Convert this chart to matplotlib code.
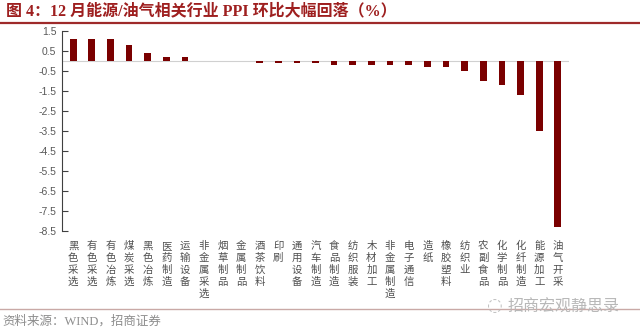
import matplotlib
matplotlib.use("Agg")
import matplotlib.pyplot as plt
from matplotlib.lines import Line2D

plt.rcParams['font.family'] = ['Liberation Sans', 'Noto Sans CJK SC', 'DejaVu Sans']

categories = ['黑色采选', '有色采选', '有色冶炼', '煤炭采选', '黑色冶炼', '医药制造', '运输设备',
              '非金属采选', '烟草制品', '金属制品', '酒茶饮料', '印刷', '通用设备', '汽车制造',
              '食品制造', '纺织服装', '木材加工', '非金属制造', '电子通信', '造纸', '橡胶塑料',
              '纺织业', '农副食品', '化学制品', '化纤制造', '能源加工', '油气开采']
values = [1.1, 1.1, 1.1, 0.8, 0.4, 0.2, 0.2,
          0.0, 0.0, 0.0, -0.1, -0.1, -0.1, -0.1,
          -0.2, -0.2, -0.2, -0.2, -0.2, -0.3, -0.3,
          -0.5, -1.0, -1.2, -1.7, -3.5, -8.3]
yticks = [1.5, 0.5, -0.5, -1.5, -2.5, -3.5, -4.5, -5.5, -6.5, -7.5, -8.5]

title = '图 4：12 月能源/油气相关行业 PPI 环比大幅回落（%）'
source = '资料来源：WIND，招商证券'
watermark = '招商宏观静思录'

W, H = 640, 336
fig = plt.figure(figsize=(W / 100, H / 100), dpi=100)
ax = fig.add_axes([62 / W, 1 - 231 / H, (569 - 62) / W, (231 - 31) / H])

x = list(range(len(categories)))
ax.bar(x, values, width=0.36, color='#7A0000', zorder=3)
ax.axhline(0, color='#D0D0D0', lw=0.8, zorder=2)
ax.set_xlim(-0.6, len(categories) - 0.4)
ax.set_ylim(-8.5, 1.5)
ax.set_yticks(yticks)
ax.set_yticklabels([f'{v:g}' for v in yticks], fontsize=7.5, color='#595959')
ax.tick_params(axis='y', direction='in', length=4, width=0.8, color='#404040', pad=4)
ax.set_xticks(x)
ax.set_xticklabels(['\n'.join(c) for c in categories], fontsize=7.5, color='#505050',
                   family=['Noto Sans CJK SC'], linespacing=1.25, va='top')
ax.tick_params(axis='x', length=0, pad=7)
for s in ['top', 'right', 'bottom']:
    ax.spines[s].set_visible(False)
ax.spines['left'].set_color('#404040')
ax.spines['left'].set_linewidth(0.8)

# title and decorations
fig.text(6 / W, 1 - 11 / H, title, fontsize=11.5, fontweight='bold', color='#9E1F1F',
         family=['Liberation Serif', 'Noto Sans CJK SC'], va='center', ha='left')
fig.add_artist(Line2D([0, 1], [1 - 23 / H, 1 - 23 / H], color='#9E2A2A', lw=1.6,
                      transform=fig.transFigure))
fig.add_artist(Line2D([0, 1], [1 - 309 / H, 1 - 309 / H], color='#C9A9A6', lw=1.0,
                      transform=fig.transFigure))
fig.text(2 / W, 1 - 321 / H, source, fontsize=9, color='#8C8C8C',
         family=['Liberation Serif', 'Noto Sans CJK SC'], va='center', ha='left')
fig.text(620 / W, 1 - 307 / H, watermark, fontsize=11.5, color='#B8B8B8',
         family=['Noto Sans CJK SC'], va='center', ha='right')
fig.text(495 / W, 1 - 306 / H, '◌', fontsize=13, color='#C0C0C0',
         family=['DejaVu Sans'], va='center', ha='center')

fig.savefig('out.png', dpi=100)
